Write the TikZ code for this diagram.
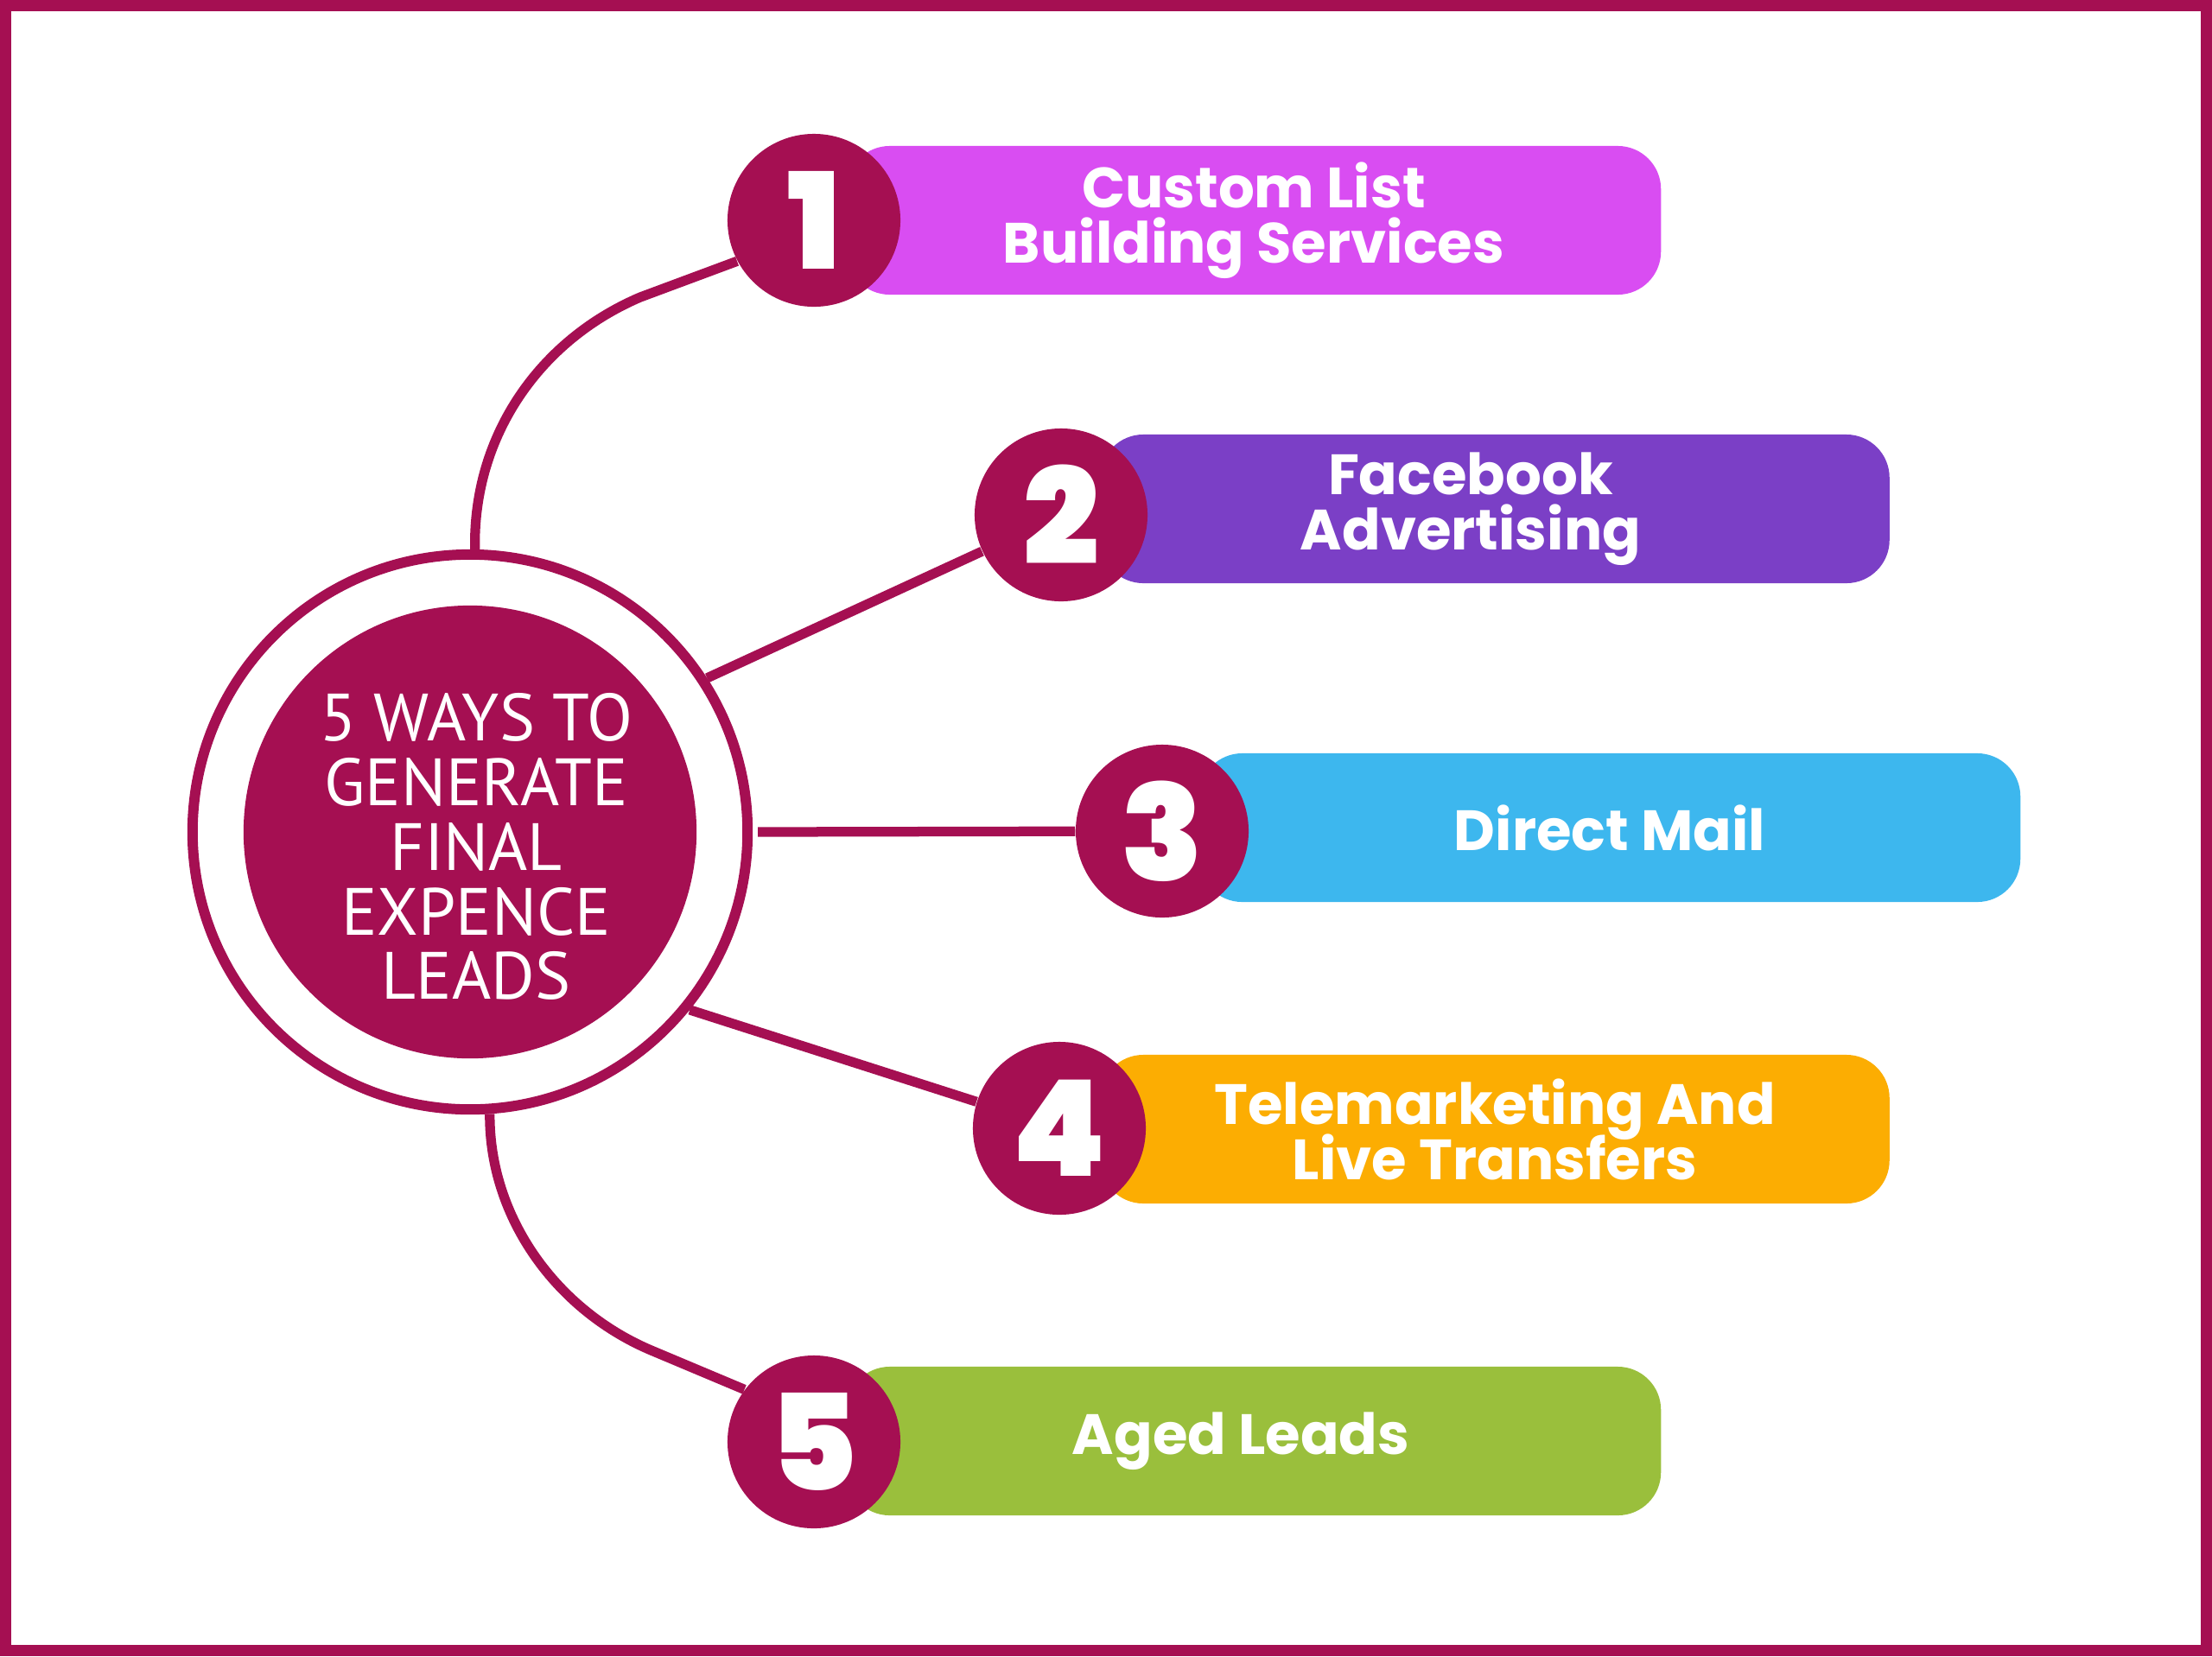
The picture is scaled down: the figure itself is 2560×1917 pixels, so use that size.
\documentclass[tikz,border=0pt]{standalone}
\usepackage{fontspec}
\setmainfont{Poppins}
\newfontfamily\hubfont{PT Sans}
\newfontfamily\numfont{Poppins Black}
\newcommand\tightlines{\lineskiplimit=-20pt\relax}
\definecolor{wine}{HTML}{A50F52}
\definecolor{barpink}{HTML}{D94DF2}
\definecolor{barpurple}{HTML}{7B3FC6}
\definecolor{barblue}{HTML}{3DB7EE}
\definecolor{barorange}{HTML}{FCAD02}
\definecolor{bargreen}{HTML}{9ABF3C}
\begin{document}
\begin{tikzpicture}[x=0.01cm,y=-0.01cm,
  bar/.style={rounded corners=0.5cm, minimum height=1.72cm, inner sep=0pt, text=white, align=center, font=\fontsize{18.7}{18.2}\selectfont\bfseries\tightlines},
  num/.style={circle, fill=wine, minimum size=2cm, inner sep=0pt, text=white, font=\numfont\fontsize{44}{44}\selectfont},
  link/.style={draw=wine, line width=3.2pt}]
\useasboundingbox (0,0) rectangle (2560,1917);
\draw[wine, line width=3.7pt] (6.5,6.5) rectangle (2553.5,1910.5);
% hub
\node[circle, draw=wine, line width=3.4pt, minimum size=6.42cm, inner sep=0pt] (ring) at (544,963) {};
\node[circle, fill=wine, minimum size=5.24cm, inner sep=0pt] (hub) at (544,963) {};
\node[text=white, align=center, inner sep=0pt, font=\hubfont\fontsize{22}{21.3}\selectfont\tightlines] (title) at (551,980) {5 WAYS TO\\GENERATE\\FINAL\\EXPENCE\\LEADS};
% bars
\node[bar, fill=barpink, minimum width=9.42cm] (b1) at (1451,255) {Custom List\\Building Services};
\node[bar, fill=barpurple, minimum width=9.13cm] (b2) at (1730,589) {\hspace*{-0.56cm}Facebook\\\hspace*{-0.56cm}Advertising};
\node[bar, fill=barblue, minimum width=9.50cm] (b3) at (1863,958) {Direct Mail};
\node[bar, fill=barorange, minimum width=9.13cm] (b4) at (1730,1307) {Telemarketing And\\Live Transfers};
\node[bar, fill=bargreen, minimum width=9.42cm] (b5) at (1451,1668) {\hspace*{-0.3cm}Aged Leads};
% numbers
\node[num] (n1) at (942,255) {1};
\node[num] (n2) at (1228,596) {2};
\node[num] (n3) at (1345,962) {3};
\node[num] (n4) at (1226,1306) {4};
\node[num] (n5) at (942,1669) {5};
% connectors
\draw[link] (ring.89) .. controls (547,503) and (626,393) .. (741,344) -- (n1.208);
\draw[link] (ring.33) -- (n2);
\draw[link] ([xshift=0.06cm]ring.0) -- (n3);
\draw[link] (ring.-39) -- (n4);
\draw[link] (ring.-86) .. controls (566,1410) and (645,1518) .. (756,1564) -- (n5.143);
\end{tikzpicture}
\end{document}
